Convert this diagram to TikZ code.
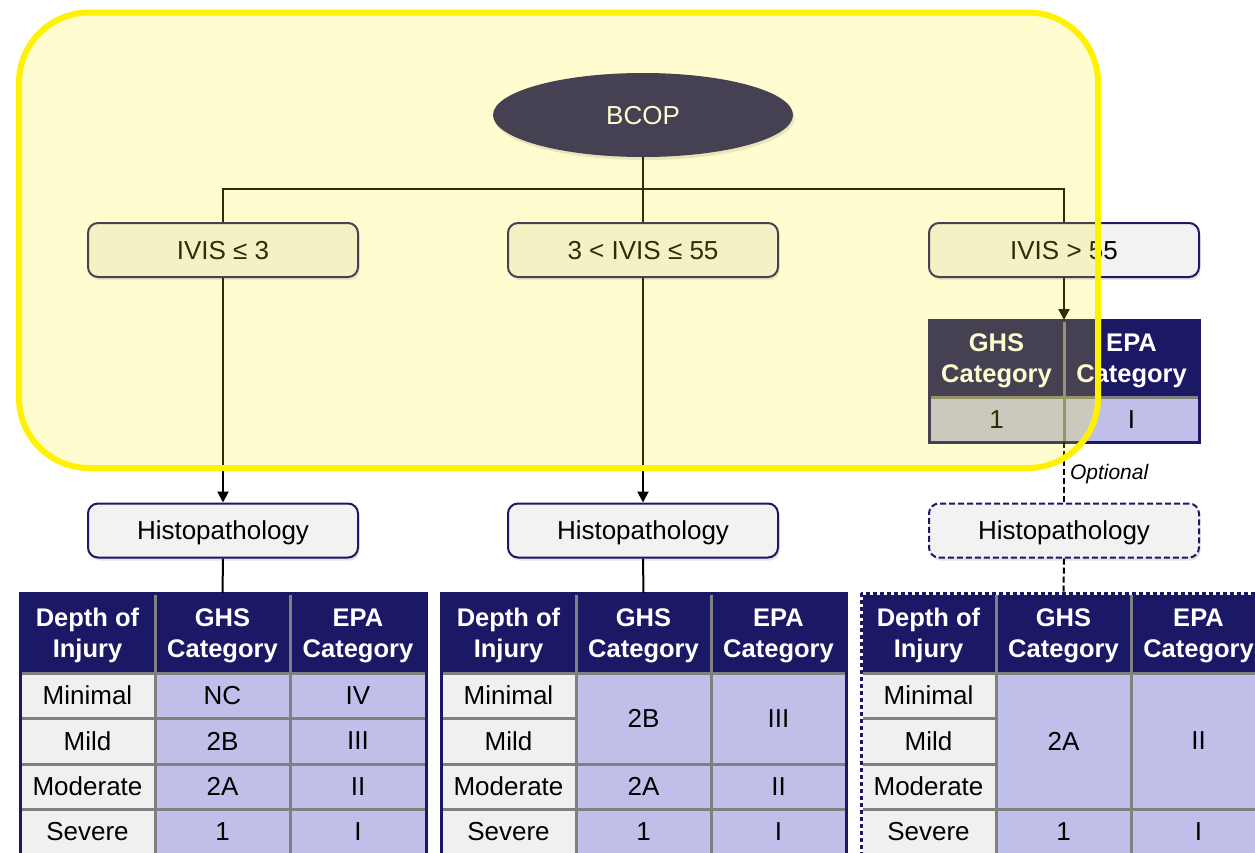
\documentclass[tikz,border=0pt]{standalone}
\usepackage{fontspec}
\setmainfont{Liberation Sans}
\usetikzlibrary{arrows.meta,shapes.geometric,shadows}
\definecolor{navy}{RGB}{27,25,102}
\definecolor{lav}{RGB}{191,191,233}
\definecolor{cellgray}{RGB}{240,240,240}
\definecolor{boxfill}{RGB}{242,242,242}
\definecolor{gridgray}{RGB}{128,128,128}
\newcommand\tcell[7]{\node[cellbase,#2,minimum width={(#5-#3)*1pt},minimum height={(#6-#4)*1pt}] (#1) at ({(#3+#5)/2},{(#4+#6)/2}) {#7};}
\begin{document}
\begin{tikzpicture}[x=1pt,y=-1pt,
  txt/.style={font=\fontsize{26}{30}\selectfont, text depth=0pt},
  flowbox/.style={rectangle, rounded corners=10pt, draw=navy, line width=2pt, fill=boxfill,
    minimum width=270pt, minimum height=54pt, inner sep=0pt, txt,
    drop shadow={shadow xshift=1.5pt, shadow yshift=-3pt, opacity=0.22}},
  dashpat/.style={dash pattern=on 6pt off 3pt},
  cellbase/.style={rectangle, inner sep=0pt, outer sep=0pt, draw=gridgray, line width=3pt, align=center, txt, text depth=-4pt},
  hdr/.style={fill=navy, text=white, font=\bfseries\fontsize{25.5}{31}\selectfont},
  cg/.style={fill=cellgray},
  cv/.style={fill=lav},
  tborder/.style={draw=navy, line width=3pt},
  conn/.style={line width=2pt, draw=black},
  arr/.style={conn, -{Triangle[length=11pt,width=11pt]}}
]
\clip (0,0) rectangle (1255,852);
\fill[white] (0,0) rectangle (1255,852);

% root
\node[ellipse, fill=navy, minimum width=300pt, minimum height=84pt, inner sep=0pt, text=white, txt,
  drop shadow={shadow xshift=1.5pt, shadow yshift=-3pt, opacity=0.22}] (bcop) at (643,115) {BCOP};

% IVIS boxes
\node[flowbox] (ivisa) at (223,250) {IVIS ≤ 3};
\node[flowbox] (ivisb) at (643,250) {3 < IVIS ≤ 55};
\node[flowbox] (ivisc) at (1064,250) {IVIS > 55};

% Histopathology boxes
\node[flowbox] (histoa) at (223,530.5) {Histopathology};
\node[flowbox] (histob) at (643,530.5) {Histopathology};
\node[flowbox, dashpat] (histoc) at (1064,530.5) {Histopathology};

% small table
\tcell{sg}{hdr}{929}{320}{1064}{397}{GHS\\Category}
\tcell{se}{hdr}{1064}{320}{1199}{397}{EPA\\Category}
\tcell{sgd}{cv}{929}{397}{1064}{442}{1}
\tcell{sed}{cv}{1064}{397}{1199}{442}{I}
\draw[tborder] (sg.north west) rectangle (sed.south east);

% table 1
\tcell{ta1}{hdr}{20}{593}{155}{673}{Depth of\\Injury}
\tcell{ta2}{hdr}{155}{593}{290}{673}{GHS\\Category}
\tcell{ta3}{hdr}{290}{593}{426}{673}{EPA\\Category}
\tcell{ta4}{cg}{20}{673}{155}{718}{Minimal}
\tcell{ta5}{cv}{155}{673}{290}{718}{NC}
\tcell{ta6}{cv}{290}{673}{426}{718}{IV}
\tcell{ta7}{cg}{20}{718}{155}{764}{Mild}
\tcell{ta8}{cv}{155}{718}{290}{764}{2B}
\tcell{ta9}{cv}{290}{718}{426}{764}{III}
\tcell{ta10}{cg}{20}{764}{155}{809}{Moderate}
\tcell{ta11}{cv}{155}{764}{290}{809}{2A}
\tcell{ta12}{cv}{290}{764}{426}{809}{II}
\tcell{ta13}{cg}{20}{809}{155}{854}{Severe}
\tcell{ta14}{cv}{155}{809}{290}{854}{1}
\tcell{ta15}{cv}{290}{809}{426}{854}{I}
\draw[tborder] (ta1.north west) rectangle (ta15.south east);

% table 2
\tcell{tb1}{hdr}{441}{593}{576}{673}{Depth of\\Injury}
\tcell{tb2}{hdr}{576}{593}{711}{673}{GHS\\Category}
\tcell{tb3}{hdr}{711}{593}{846}{673}{EPA\\Category}
\tcell{tb4}{cg}{441}{673}{576}{718}{Minimal}
\tcell{tb7}{cg}{441}{718}{576}{764}{Mild}
\tcell{tb5}{cv}{576}{673}{711}{764}{2B}
\tcell{tb6}{cv}{711}{673}{846}{764}{III}
\tcell{tb10}{cg}{441}{764}{576}{809}{Moderate}
\tcell{tb11}{cv}{576}{764}{711}{809}{2A}
\tcell{tb12}{cv}{711}{764}{846}{809}{II}
\tcell{tb13}{cg}{441}{809}{576}{854}{Severe}
\tcell{tb14}{cv}{576}{809}{711}{854}{1}
\tcell{tb15}{cv}{711}{809}{846}{854}{I}
\draw[tborder] (tb1.north west) rectangle (tb15.south east);

% table 3
\tcell{tc1}{hdr}{861}{593}{996}{673}{Depth of\\Injury}
\tcell{tc2}{hdr}{996}{593}{1131}{673}{GHS\\Category}
\tcell{tc3}{hdr}{1131}{593}{1266}{673}{EPA\\Category}
\tcell{tc4}{cg}{861}{673}{996}{718}{Minimal}
\tcell{tc7}{cg}{861}{718}{996}{764}{Mild}
\tcell{tc10}{cg}{861}{764}{996}{809}{Moderate}
\tcell{tc5}{cv}{996}{673}{1131}{809}{2A}
\tcell{tc6}{cv}{1131}{673}{1266}{809}{II}
\tcell{tc13}{cg}{861}{809}{996}{854}{Severe}
\tcell{tc14}{cv}{996}{809}{1131}{854}{1}
\tcell{tc15}{cv}{1131}{809}{1266}{854}{I}
\draw[white, line width=3pt] (tc1.north west) rectangle (tc15.south east);
\draw[navy, line width=3pt, dash pattern=on 4pt off 3pt] (tc1.north west) rectangle (tc15.south east);

% connectors
\coordinate (junc) at (643,189);
\draw[conn] (bcop.south) -- (ivisb.north);
\draw[conn] (ivisa.north) |- (junc) -| (ivisc.north);
\draw[arr] (ivisa.south) -- (histoa.north);
\draw[arr] (ivisb.south) -- (histob.north);
\draw[arr] (ivisc.south) -- (sg.north east);
\draw[conn, dashpat] (sgd.south east) -- node[right, inner sep=5pt, text depth=0pt, font=\itshape\fontsize{21}{24}\selectfont] {Optional} (histoc.north);
\draw[conn] (histoa.south) -- (ta2.north);
\draw[conn] (histob.south) -- (tb2.north);
\draw[conn, dashpat] (histoc.south) -- (tc2.north);

% translucent highlight
\draw[yellow, line width=6pt, fill=yellow, fill opacity=0.19, rounded corners=70pt] (19,12.5) rectangle (1098,468);
\end{tikzpicture}
\end{document}
